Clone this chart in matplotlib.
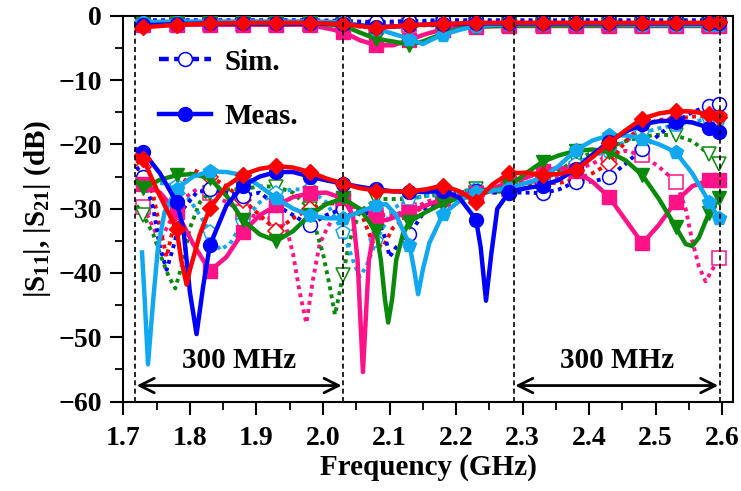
import numpy as np
import matplotlib
matplotlib.use("Agg")
import matplotlib.pyplot as plt
from matplotlib.lines import Line2D

plt.rcParams['font.family'] = ['Liberation Serif', 'DejaVu Serif']
plt.rcParams['font.weight'] = 'bold'
plt.rcParams['mathtext.fontset'] = 'custom'
plt.rcParams['mathtext.rm'] = 'Liberation Serif:bold'
plt.rcParams['mathtext.it'] = 'Liberation Serif:bold'
plt.rcParams['mathtext.bf'] = 'Liberation Serif:bold'

# ---------------- data (frequency in GHz, magnitude in dB) ----------------
MARK_F = [1.73, 1.78, 1.83, 1.88, 1.93, 1.98, 2.03, 2.08, 2.13, 2.18,
          2.23, 2.28, 2.33, 2.38, 2.43, 2.48, 2.53, 2.58, 2.595]

# measured |S11|
blue_meas_f = [1.72, 1.73, 1.755, 1.78, 1.79, 1.80, 1.81, 1.82, 1.83, 1.855, 1.88, 1.905,
               1.93, 1.955, 1.98, 2.005, 2.03, 2.055, 2.08, 2.105, 2.13, 2.155, 2.18, 2.205,
               2.23, 2.237, 2.245, 2.253, 2.262, 2.28, 2.305, 2.33, 2.355, 2.38, 2.405,
               2.43, 2.455, 2.48, 2.505, 2.53, 2.555, 2.58, 2.595]
blue_meas_db = [-20.8, -21.2, -24.5, -29.0, -33.0, -43.0, -49.5, -42.0, -35.7, -29.5, -26.4, -25.0,
                -24.3, -24.3, -25.0, -25.6, -26.1, -26.6, -27.0, -27.3, -27.4, -27.4, -27.2, -28.3,
                -31.7, -36.0, -44.3, -37.0, -30.0, -27.4, -26.8, -26.4, -25.5, -23.8, -21.6,
                -19.6, -18.0, -16.9, -16.4, -16.3, -16.6, -17.4, -18.1]

red_meas_f = [1.72, 1.73, 1.75, 1.78, 1.787, 1.795, 1.80, 1.815, 1.83, 1.855, 1.88, 1.905,
              1.93, 1.955, 1.98, 2.005, 2.03, 2.055, 2.08, 2.105, 2.13, 2.155, 2.18, 2.205,
              2.23, 2.255, 2.28, 2.305, 2.33, 2.355, 2.38, 2.405, 2.43, 2.455, 2.48, 2.505,
              2.53, 2.555, 2.58, 2.595]
red_meas_db = [-21.7, -22.3, -27.0, -33.2, -38.0, -41.8, -39.5, -34.0, -29.9, -26.5, -24.7, -23.8,
               -23.4, -23.6, -24.3, -25.3, -26.1, -26.8, -27.2, -27.3, -27.3, -27.0, -26.4, -27.3,
               -28.9, -26.2, -24.5, -24.4, -24.7, -24.6, -24.0, -22.0, -19.8, -17.8, -16.0, -15.2,
               -14.8, -14.9, -15.3, -15.8]

pink_meas_f = [1.72, 1.73, 1.755, 1.78, 1.805, 1.83, 1.855, 1.88, 1.905, 1.93, 1.955, 1.98,
               2.005, 2.03, 2.045, 2.052, 2.06, 2.069, 2.08, 2.095, 2.13, 2.155, 2.18, 2.205,
               2.23, 2.255, 2.28, 2.305, 2.33, 2.355, 2.38, 2.405, 2.43, 2.455, 2.48, 2.505,
               2.53, 2.555, 2.58, 2.595]
pink_meas_db = [-25.7, -26.2, -27.5, -30.5, -35.5, -39.7, -37.5, -33.6, -31.0, -29.5, -28.2, -27.6,
                -27.5, -28.4, -31.0, -38.0, -55.4, -38.0, -31.5, -31.8, -30.5, -29.5, -28.5, -28.0,
                -27.5, -26.8, -26.0, -25.2, -24.2, -23.6, -24.2, -25.8, -28.2, -31.8, -35.4, -32.5,
                -28.9, -26.5, -25.6, -25.6]

cyan_meas_f = [1.728, 1.732, 1.737, 1.745, 1.752, 1.762, 1.78, 1.805, 1.83, 1.855, 1.88, 1.905,
               1.93, 1.955, 1.98, 2.005, 2.03, 2.055, 2.08, 2.095, 2.11, 2.13, 2.137, 2.143,
               2.15, 2.16, 2.18, 2.205, 2.23, 2.255, 2.28, 2.305, 2.33, 2.355, 2.38, 2.405,
               2.43, 2.455, 2.48, 2.505, 2.53, 2.555, 2.58, 2.595]
cyan_meas_db = [-36.8, -44.0, -54.2, -44.0, -36.0, -30.5, -26.9, -25.0, -24.2, -24.3, -24.8, -26.5,
                -28.4, -30.0, -31.0, -31.5, -31.5, -30.5, -29.5, -29.3, -31.0, -35.6, -39.5, -43.3,
                -39.5, -35.3, -30.9, -28.8, -27.4, -27.2, -26.8, -26.0, -25.2, -23.3, -20.9, -19.4,
                -18.6, -18.6, -19.1, -20.0, -21.2, -24.5, -28.9, -31.5]

green_meas_f = [1.72, 1.73, 1.755, 1.78, 1.805, 1.83, 1.855, 1.88, 1.905, 1.93, 1.955, 1.98,
                2.005, 2.03, 2.055, 2.08, 2.087, 2.093, 2.098, 2.104, 2.11, 2.12, 2.13, 2.155,
                2.18, 2.205, 2.23, 2.255, 2.28, 2.305, 2.33, 2.355, 2.38, 2.405, 2.43, 2.455,
                2.48, 2.505, 2.53, 2.545, 2.555, 2.565, 2.58, 2.595]
green_meas_db = [-25.8, -26.8, -25.5, -24.8, -24.6, -25.3, -28.0, -31.8, -34.0, -35.0, -33.5, -31.0,
                 -29.3, -28.4, -30.0, -33.5, -38.0, -44.0, -47.7, -44.0, -38.0, -34.0, -32.0, -30.5,
                 -29.2, -28.3, -27.8, -27.2, -26.5, -24.5, -22.7, -21.7, -21.0, -20.8, -21.2, -22.5,
                 -24.8, -28.5, -32.8, -35.5, -35.8, -34.5, -30.7, -28.4]

# simulated |S11|
blue_sim_f = [1.72, 1.73, 1.745, 1.755, 1.765, 1.775, 1.79, 1.81, 1.83, 1.855, 1.88, 1.905,
              1.93, 1.955, 1.98, 2.005, 2.03, 2.055, 2.08, 2.095, 2.10, 2.11, 2.13, 2.155,
              2.18, 2.205, 2.23, 2.255, 2.28, 2.305, 2.33, 2.355, 2.38, 2.405, 2.43, 2.455,
              2.48, 2.505, 2.53, 2.555, 2.58, 2.595]
blue_sim_db = [-23.5, -25.0, -30.0, -36.0, -39.5, -36.0, -30.0, -27.5, -27.0, -27.5, -28.0, -27.5,
               -29.5, -31.0, -32.6, -31.0, -30.0, -30.5, -31.0, -35.0, -37.5, -36.0, -34.0, -30.0,
               -28.5, -27.5, -27.3, -27.5, -27.5, -27.5, -27.6, -27.0, -25.8, -25.8, -25.1, -23.0,
               -20.7, -18.5, -16.5, -15.0, -14.0, -13.7]

red_sim_f = [1.72, 1.73, 1.745, 1.755, 1.765, 1.775, 1.79, 1.805, 1.83, 1.855, 1.88, 1.905,
             1.93, 1.955, 1.98, 2.005, 2.03, 2.055, 2.075, 2.09, 2.105, 2.13, 2.155, 2.18,
             2.205, 2.23, 2.255, 2.28, 2.305, 2.33, 2.355, 2.38, 2.405, 2.43, 2.455, 2.48,
             2.505, 2.53, 2.555, 2.58, 2.595]
red_sim_db = [-22.5, -23.5, -28.0, -33.0, -37.5, -33.0, -26.0, -24.0, -25.0, -26.5, -28.7, -31.0,
              -33.4, -31.5, -30.0, -29.3, -29.0, -30.0, -35.4, -36.0, -33.0, -31.0, -29.5, -29.0,
              -28.5, -28.0, -27.0, -26.0, -26.0, -26.0, -26.0, -25.5, -24.5, -23.0, -19.5, -17.0,
              -16.2, -16.0, -15.7, -15.5, -15.5]

pink_sim_f = [1.72, 1.73, 1.745, 1.755, 1.77, 1.79, 1.81, 1.83, 1.855, 1.88, 1.905, 1.93,
              1.945, 1.955, 1.965, 1.975, 1.985, 1.995, 2.005, 2.02, 2.03, 2.055, 2.08, 2.105,
              2.13, 2.155, 2.18, 2.205, 2.23, 2.255, 2.28, 2.305, 2.33, 2.355, 2.38, 2.405,
              2.43, 2.455, 2.48, 2.505, 2.53, 2.545, 2.555, 2.565, 2.575, 2.585, 2.595]
pink_sim_db = [-29.0, -29.7, -33.0, -35.0, -32.0, -28.5, -27.0, -27.5, -29.0, -30.5, -31.5, -31.5,
               -33.0, -37.0, -43.0, -47.8, -41.0, -35.5, -33.3, -30.5, -29.5, -30.0, -31.0, -31.0,
               -30.2, -29.0, -28.0, -27.5, -27.5, -27.5, -27.0, -26.0, -25.5, -25.0, -24.0, -23.0,
               -21.7, -21.0, -21.7, -23.5, -25.8, -30.0, -35.0, -39.0, -41.3, -39.5, -37.7]

cyan_sim_f = [1.72, 1.73, 1.755, 1.78, 1.80, 1.815, 1.83, 1.845, 1.86, 1.88, 1.905, 1.93,
              1.955, 1.98, 2.005, 2.03, 2.045, 2.055, 2.065, 2.08, 2.105, 2.13, 2.155, 2.18,
              2.205, 2.23, 2.255, 2.28, 2.305, 2.33, 2.355, 2.38, 2.405, 2.43, 2.455, 2.48,
              2.505, 2.53, 2.555, 2.58, 2.595]
cyan_sim_db = [-25.0, -25.5, -26.0, -26.5, -28.7, -31.0, -33.6, -36.4, -35.5, -32.0, -29.0, -27.5,
               -27.0, -27.0, -29.0, -33.6, -38.0, -40.6, -39.0, -35.0, -30.0, -28.5, -28.0, -28.0,
               -27.5, -27.0, -27.0, -26.5, -26.0, -25.5, -24.5, -23.0, -21.8, -21.0, -19.5, -18.2,
               -17.5, -17.0, -16.5, -16.0, -16.0]

green_sim_f = [1.72, 1.73, 1.745, 1.755, 1.768, 1.778, 1.79, 1.80, 1.815, 1.83, 1.855, 1.88,
               1.905, 1.93, 1.955, 1.98, 1.99, 2.0, 2.01, 2.018, 2.025, 2.03, 2.04, 2.055,
               2.08, 2.105, 2.13, 2.155, 2.18, 2.205, 2.23, 2.255, 2.28, 2.305, 2.33, 2.355,
               2.38, 2.405, 2.43, 2.455, 2.48, 2.505, 2.53, 2.555, 2.58, 2.595]
green_sim_db = [-29.5, -31.0, -34.0, -37.0, -40.5, -42.4, -38.0, -33.0, -29.0, -27.5, -27.0, -27.0,
                -26.5, -26.6, -27.5, -30.0, -33.5, -37.0, -42.0, -46.5, -43.0, -40.3, -35.0, -30.5,
                -28.5, -28.5, -28.5, -28.0, -27.8, -27.3, -27.0, -27.3, -27.5, -26.8, -25.8, -24.0,
                -22.5, -21.2, -20.5, -19.5, -18.8, -18.5, -18.6, -19.5, -21.5, -23.0]

# |S21| (common frequency grid)
s21_f = [1.72, 1.73, 1.78, 1.83, 1.88, 1.93, 1.98, 2.03, 2.055, 2.08, 2.105, 2.13, 2.15,
         2.17, 2.18, 2.205, 2.23, 2.28, 2.33, 2.38, 2.43, 2.48, 2.53, 2.58, 2.595]
red_s21_meas = [-2.0, -1.8, -1.4, -1.2, -1.1, -1.1, -1.1, -1.3, -1.6, -1.9, -1.7, -1.5, -1.4,
                -1.3, -1.3, -1.2, -1.1, -1.1, -1.1, -1.1, -1.1, -1.1, -1.1, -1.1, -1.0]
blue_s21_meas = [-1.6, -1.5, -1.3, -1.2, -1.2, -1.2, -1.2, -1.3, -1.5, -1.7, -1.7, -1.5, -1.4,
                 -1.3, -1.3, -1.3, -1.2, -1.2, -1.2, -1.2, -1.2, -1.2, -1.2, -1.2, -1.2]
cyan_s21_meas = [-1.0, -1.0, -0.9, -0.9, -0.9, -0.9, -0.9, -1.0, -1.5, -2.0, -2.8, -3.6, -4.4,
                 -3.4, -3.0, -2.2, -1.6, -1.3, -1.3, -1.3, -1.3, -1.4, -1.4, -1.4, -1.4]
green_s21_meas = [-1.3, -1.3, -1.2, -1.2, -1.2, -1.2, -1.2, -1.5, -2.6, -3.6, -4.0, -4.5, -4.0,
                  -3.2, -2.8, -2.0, -1.7, -1.5, -1.5, -1.5, -1.5, -1.5, -1.5, -1.5, -1.5]
pink_s21_meas = [-1.5, -1.5, -1.4, -1.4, -1.4, -1.4, -1.4, -2.5, -3.8, -4.6, -4.6, -3.8, -3.0,
                 -2.4, -2.2, -1.8, -1.7, -1.6, -1.6, -1.6, -1.6, -1.6, -1.6, -1.6, -1.6]
blue_s21_sim = [-0.7, -0.7, -0.7, -0.7, -0.7, -0.7, -0.7, -0.8, -0.9, -1.0, -0.9, -0.8, -0.8,
                -0.7, -0.7, -0.7, -0.7, -0.7, -0.7, -0.7, -0.7, -0.7, -0.7, -0.7, -0.7]
red_s21_sim = [-0.9, -0.9, -0.9, -0.9, -0.9, -0.9, -0.9, -1.0, -1.1, -1.2, -1.1, -1.0, -1.0,
               -0.9, -0.9, -0.9, -0.9, -0.9, -0.9, -0.9, -0.9, -0.9, -0.9, -0.9, -0.9]
pink_s21_sim = [-1.3, -1.3, -1.3, -1.3, -1.3, -1.3, -1.3, -1.5, -1.7, -1.8, -1.7, -1.5, -1.4,
                -1.4, -1.4, -1.4, -1.4, -1.4, -1.4, -1.4, -1.4, -1.4, -1.4, -1.4, -1.4]
cyan_s21_sim = [-1.0, -1.0, -1.0, -1.0, -1.0, -1.0, -1.0, -1.1, -1.2, -1.3, -1.3, -1.2, -1.1,
                -1.1, -1.0, -1.0, -1.0, -1.0, -1.0, -1.0, -1.0, -1.0, -1.0, -1.0, -1.0]
green_s21_sim = [-1.4, -1.4, -1.4, -1.4, -1.4, -1.4, -1.4, -1.5, -1.6, -1.7, -1.7, -1.6, -1.5,
                 -1.5, -1.5, -1.5, -1.5, -1.5, -1.5, -1.5, -1.5, -1.5, -1.5, -1.5, -1.5]

x_ticks = [1.7, 1.8, 1.9, 2.0, 2.1, 2.2, 2.3, 2.4, 2.5, 2.6]
x_tick_labels = ['1.7', '1.8', '1.9', '2.0', '2.1', '2.2', '2.3', '2.4', '2.5', '2.6']
y_ticks = [0, -10, -20, -30, -40, -50, -60]
band_edges = [1.718, 2.030, 2.287, 2.596]
band_label = '300 MHz'

# ---------------- styling ----------------
C_BLUE = '#0000FF'
C_RED = '#FF0000'
C_PINK = '#FF1188'
C_CYAN = '#10A8F0'
C_GREEN = '#0A8A0A'

MEAS_LW = 3.2
SIM_LW = 2.8
SIM_DASH = (0, (1.0, 1.1))
MS = 10


def mark_idx(freqs):
    f = np.asarray(freqs)
    return [i for i, v in enumerate(f) if np.any(np.isclose(v, MARK_F, atol=1e-4))]


fig = plt.figure(figsize=(7.41, 4.91), dpi=100)
ax = fig.add_axes([0.1665, 0.182, 0.8225, 0.786])

sim_sets = [
    (pink_sim_f, pink_sim_db, pink_s21_sim, C_PINK, 's'),
    (green_sim_f, green_sim_db, green_s21_sim, C_GREEN, 'v'),
    (cyan_sim_f, cyan_sim_db, cyan_s21_sim, C_CYAN, 'p'),
    (red_sim_f, red_sim_db, red_s21_sim, C_RED, 'D'),
    (blue_sim_f, blue_sim_db, blue_s21_sim, C_BLUE, 'o'),
]
for f, s11, s21, c, m in sim_sets:
    for xf, yv in ((f, s11), (s21_f, s21)):
        ax.plot(xf, yv, color=c, lw=SIM_LW, linestyle=SIM_DASH, marker=m,
                markevery=mark_idx(xf), ms=MS if m != 'D' else MS - 1.5,
                mfc='white', mec=c, mew=1.1, zorder=2)

meas_sets = [
    (pink_meas_f, pink_meas_db, pink_s21_meas, C_PINK, 's'),
    (green_meas_f, green_meas_db, green_s21_meas, C_GREEN, 'v'),
    (cyan_meas_f, cyan_meas_db, cyan_s21_meas, C_CYAN, 'p'),
    (blue_meas_f, blue_meas_db, blue_s21_meas, C_BLUE, 'o'),
    (red_meas_f, red_meas_db, red_s21_meas, C_RED, 'D'),
]
for f, s11, s21, c, m in meas_sets:
    for xf, yv in ((f, s11), (s21_f, s21)):
        ax.plot(xf, yv, color=c, lw=MEAS_LW, linestyle='-', marker=m,
                markevery=mark_idx(xf), ms=MS if m != 'D' else MS - 1.5,
                mfc=c, mec=c, zorder=3)

# band edges
for xe in band_edges:
    ax.axvline(xe, color='black', lw=1.2, linestyle=(0, (3, 2)), zorder=4)

# bandwidth arrows and labels
for x0, x1 in ((band_edges[0], band_edges[1]), (band_edges[2], band_edges[3])):
    ax.annotate('', xy=(x0 + 0.002, -57.5), xytext=(x1 - 0.002, -57.5),
                arrowprops=dict(arrowstyle='<->', lw=2.0, color='black',
                                mutation_scale=26, shrinkA=0, shrinkB=0),
                zorder=5)
    ax.text((x0 + x1) / 2, -53.6, band_label, ha='center', va='center',
            fontsize=21, fontweight='bold', zorder=5)

ax.set_xlim(1.7, 2.616)
ax.set_ylim(-60, 0)
ax.set_xticks(x_ticks)
ax.set_xticklabels(x_tick_labels)
ax.set_xticks(np.arange(1.75, 2.6, 0.1), minor=True)
ax.set_yticks(y_ticks)
ax.set_yticks(np.arange(-55, 0, 10), minor=True)
ax.tick_params(axis='both', which='major', direction='out', length=9.5, width=1.5,
               labelsize=20)
ax.tick_params(axis='both', which='minor', direction='out', length=5.5, width=1.3)
ax.tick_params(axis='x', which='major', pad=8)
ax.tick_params(axis='y', which='major', pad=6)
ax.tick_params(top=False, right=False)
for sp in ax.spines.values():
    sp.set_linewidth(1.5)

ax.set_xlabel('Frequency (GHz)', fontsize=21, fontweight='bold', labelpad=2)
ax.set_ylabel(r'$|\mathrm{S}_{11}|$, $|\mathrm{S}_{21}|$ (dB)', fontsize=21,
              fontweight='bold', labelpad=4)

handles = [
    Line2D([], [], color=C_BLUE, lw=3.2, linestyle=(0, (2.2, 1.2)), marker='o', ms=MS,
           mfc='white', mec=C_BLUE, mew=1.1),
    Line2D([], [], color=C_BLUE, lw=3.2, linestyle='-', marker='o', ms=MS,
           mfc=C_BLUE, mec=C_BLUE),
]
ax.legend(handles, ['Sim.', 'Meas.'], loc='upper left', bbox_to_anchor=(0.058, 0.915),
          frameon=False, fontsize=21, handlelength=1.8, handletextpad=0.45,
          labelspacing=0.95, borderpad=0, borderaxespad=0)

fig.savefig('out.png', dpi=100)
